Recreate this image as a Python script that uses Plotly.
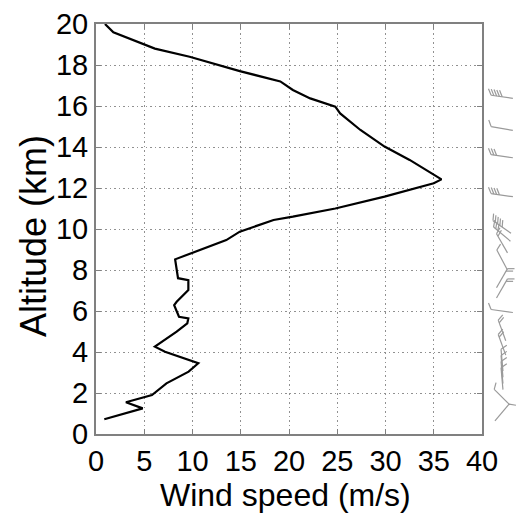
import math
import plotly.graph_objects as go

# ---- wind speed profile (m/s) vs altitude (km) ----
speed = [0.86, 4.84, 3.1, 4.6, 5.8, 7.3, 9.6, 10.6, 7.15, 6.1, 8.36, 9.46, 9.57, 8.6, 8.1, 8.36,
         9.57, 9.57, 8.5, 8.2, 13.5, 14.9, 18.4, 20.4, 24.8, 29.9, 35.0, 35.8, 32.5, 29.9, 27.4,
         25.3, 24.8, 22.2, 20.4, 19.1, 14.9, 9.7, 6.1, 1.8, 0.93]
altitude = [0.72, 1.25, 1.55, 1.74, 1.9, 2.47, 3.04, 3.45, 4.01, 4.26, 4.99, 5.4, 5.64, 5.72, 6.29, 6.45,
            7.02, 7.51, 7.6, 8.52, 9.46, 9.87, 10.44, 10.6, 11.0, 11.58, 12.23, 12.42, 13.37, 14.02, 14.83,
            15.64, 15.97, 16.37, 16.78, 17.2, 17.7, 18.4, 18.8, 19.6, 20.0]

# ---- wind barbs (altitude km, staff direction deg, number of barbs) ----
barb_alt = [16.45, 14.9, 13.55, 11.65, 10.1, 9.75, 9.3, 8.5, 7.6, 7.1, 6.0, 5.05, 4.35,
            3.6, 3.3, 3.0, 2.7, 1.8, 1.05]
barb_dir = [172, 170, 172, 172, 145, 140, 120, 118, 60, 60, 172, 110, 110,
            95, 95, 95, 95, 135, 50]
barb_n = [5, 1, 3, 4, 5, 3, 2, 1, 2, 2, 1, 2, 2, 1, 1, 1, 1, 1, 1]

x_ticks = [0, 5, 10, 15, 20, 25, 30, 35, 40]
y_ticks = [0, 2, 4, 6, 8, 10, 12, 14, 16, 18, 20]

W, H = 529, 513
ML, MR, MT, MB = 96, 0, 24, 79
PW = W - ML - MR
PH = H - MT - MB
XRIGHT = 482
main_frac = (XRIGHT - ML) / PW
px_per_km = PH / 20.0

# barb geometry in pixel units on a pixel-scaled side axis
cx = 502.0
half = 11.0
tick_len = 7.0
tick_gap = 2.8
bx, by = [], []
for alt, ang, n in zip(barb_alt, barb_dir, barb_n):
    ca, sa = math.cos(math.radians(ang)), math.sin(math.radians(ang))
    x0, y0 = cx - half * ca, -half * sa
    x1, y1 = cx + half * ca, half * sa
    bx += [x0, x1, None]
    by += [alt + y0 / px_per_km, alt + y1 / px_per_km, None]
    ta = math.radians(ang - 60)
    for k in range(n):
        sx, sy = x1 - k * tick_gap * ca, y1 - k * tick_gap * sa
        ex, ey = sx + tick_len * math.cos(ta), sy + tick_len * math.sin(ta)
        bx += [sx, ex, None]
        by += [alt + sy / px_per_km, alt + ey / px_per_km, None]

FONT = "Liberation Sans, Arial, sans-serif"

fig = go.Figure()
fig.add_trace(go.Scatter(x=speed, y=altitude, mode="lines",
                         line=dict(color="black", width=2.2), showlegend=False,
                         hoverinfo="skip"))
fig.add_trace(go.Scatter(x=bx, y=by, mode="lines", xaxis="x2", yaxis="y2",
                         line=dict(color="#9a9a9a", width=1.2), showlegend=False,
                         hoverinfo="skip", connectgaps=False))

axis_common = dict(showgrid=True, gridcolor="#909090", griddash="1.5px,3px", gridwidth=1.2,
                   showline=True, linecolor="#808080", linewidth=2, mirror="ticks",
                   ticks="inside", ticklen=5, tickcolor="#808080", zeroline=False,
                   tickfont=dict(family=FONT, size=29, color="black"), automargin=False)

fig.update_layout(
    width=W, height=H,
    margin=dict(l=ML, r=MR, t=MT, b=MB),
    paper_bgcolor="white", plot_bgcolor="white",
    xaxis=dict(domain=[0, main_frac], range=[0, 40], tickvals=x_ticks,
               ticklabelstandoff=0, **axis_common),
    yaxis=dict(range=[0, 20], tickvals=y_ticks, **axis_common),
    xaxis2=dict(domain=[main_frac, 1], range=[XRIGHT, W], visible=False, anchor="y2"),
    yaxis2=dict(domain=[0, 1], range=[0, 20], visible=False, anchor="x2"),
    annotations=[
        dict(text="Wind speed (m/s)", xref="x domain", yref="paper", x=0.49,
             y=(434 - 495) / PH, xanchor="center", yanchor="middle", showarrow=False,
             font=dict(family=FONT, size=32, color="black")),
        dict(text="Altitude (km)", xref="paper", yref="paper", x=(33 - ML) / PW,
             y=(434 - 236) / PH, xanchor="center", yanchor="middle", showarrow=False,
             textangle=-90, font=dict(family=FONT, size=36, color="black")),
    ],
)

fig.write_html("out.html")
